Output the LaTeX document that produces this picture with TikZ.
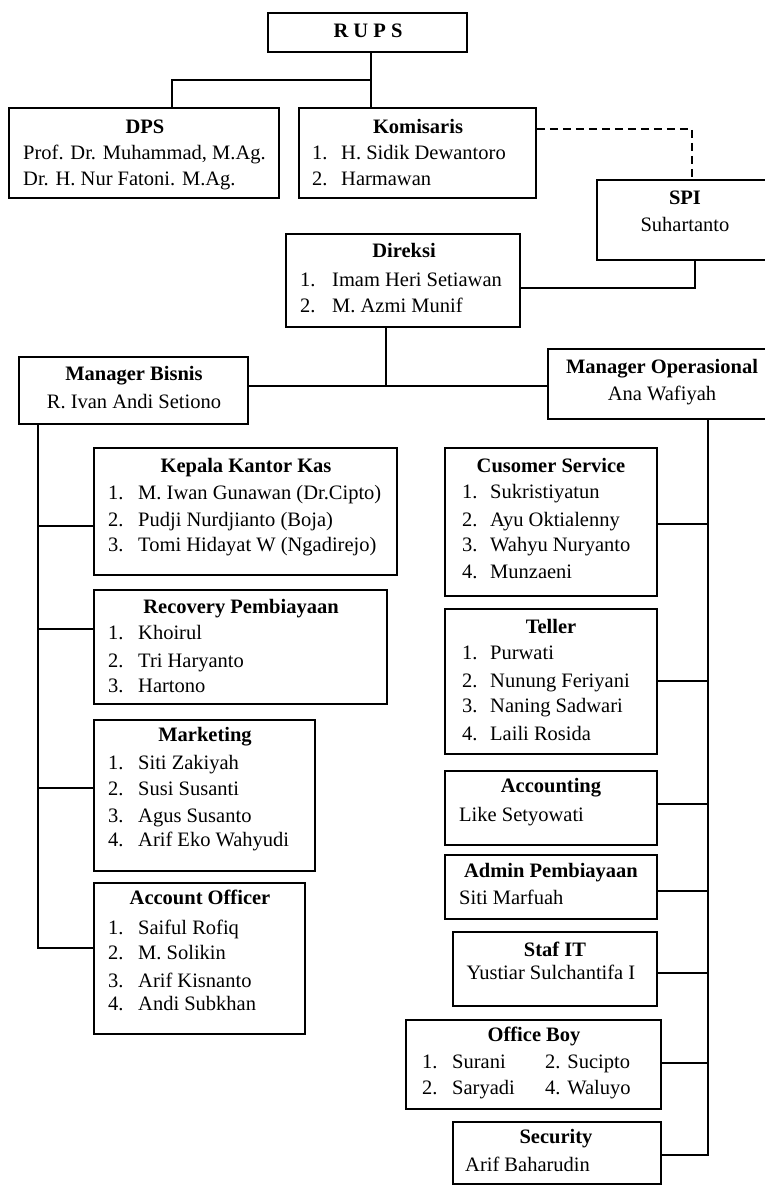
\documentclass[tikz,border=0pt]{standalone}
\usepackage{fontspec}
\setmainfont{Liberation Serif}
\newcommand\orgitem[6]{%
  \node[lt] (#1n) at (#2,#4) {#5};
  \node[lt] (#1t) at (#3,#4) {#6};}
\begin{document}
\begin{tikzpicture}[x=1pt,y=-1pt,
  box/.style={draw,line width=1.6pt,rectangle,inner sep=0pt},
  ct/.style={inner sep=0pt,anchor=mid,yshift=-2pt,font=\fontsize{20.5}{25}\selectfont},
  tt/.style={ct,font=\fontsize{20.5}{25}\selectfont\bfseries},
  lt/.style={inner sep=0pt,anchor=mid west,yshift=-2pt,font=\fontsize{20.5}{25}\selectfont},
  con/.style={line width=1.6pt},
  dsh/.style={line width=1.6pt,dash pattern=on 8pt off 5pt}]
\useasboundingbox[fill=white] (0,0) rectangle (764,1186);

% ---- boxes ----
\node[box,minimum width=199pt,minimum height=39pt] (rups) at (367.5,32.5) {};
\node[box,minimum width=270pt,minimum height=90pt] (dps) at (144,153) {};
\node[box,minimum width=237pt,minimum height=90pt] (kom) at (417.5,153) {};
\node[box,minimum width=176pt,minimum height=80pt] (spi) at (685,220) {};
\node[box,minimum width=234pt,minimum height=93pt] (dir) at (403,280.5) {};
\node[box,minimum width=229pt,minimum height=67pt] (mb) at (133.5,390.5) {};
\node[box,minimum width=228pt,minimum height=70pt] (mo) at (662,384) {};
\node[box,minimum width=303pt,minimum height=127pt] (kkk) at (245.5,511.5) {};
\node[box,minimum width=293pt,minimum height=114pt] (rec) at (240.5,647) {};
\node[box,minimum width=221pt,minimum height=151pt] (mkt) at (204.5,795.5) {};
\node[box,minimum width=211pt,minimum height=151pt] (ao) at (199.5,958.5) {};
\node[box,minimum width=212pt,minimum height=148pt] (cs) at (551,522) {};
\node[box,minimum width=212pt,minimum height=145pt] (tel) at (551,681.5) {};
\node[box,minimum width=212pt,minimum height=74pt] (acc) at (551,808) {};
\node[box,minimum width=212pt,minimum height=64pt] (adm) at (551,887) {};
\node[box,minimum width=204pt,minimum height=74pt] (it) at (555,969) {};
\node[box,minimum width=255pt,minimum height=89pt] (ob) at (533.5,1064.5) {};
\node[box,minimum width=208pt,minimum height=62pt] (sec) at (557,1153) {};

% ---- texts ----
\node[tt] (rups-t) at (368,33) {R U P S};

\node[tt] (dps-t) at (145,129) {DPS};
\node[lt] (dps-1) at (23,155) {Prof. Dr. Muhammad, M.Ag.};
\node[lt] (dps-2) at (23,181) {Dr. H. Nur Fatoni. M.Ag.};

\node[tt] (kom-t) at (418,129) {Komisaris};
\orgitem{kom1}{312}{341}{155}{1.}{H. Sidik Dewantoro}
\orgitem{kom2}{312}{341}{181}{2.}{Harmawan}

\node[tt] (spi-t) at (685,200) {SPI};
\node[ct] (spi-1) at (685,227) {Suhartanto};

\node[tt] (dir-t) at (404,253) {Direksi};
\orgitem{dir1}{300}{332}{282}{1.}{Imam Heri Setiawan}
\orgitem{dir2}{300}{332}{308}{2.}{M. Azmi Munif}

\node[tt] (mb-t) at (134,376) {Manager Bisnis};
\node[ct] (mb-1) at (134,404) {R. Ivan Andi Setiono};

\node[tt] (mo-t) at (662,369) {Manager Operasional};
\node[ct] (mo-1) at (662,396) {Ana Wafiyah};

\node[tt] (kkk-t) at (246,468) {Kepala Kantor Kas};
\orgitem{kkk1}{108}{138}{495}{1.}{M. Iwan Gunawan (Dr.Cipto)}
\orgitem{kkk2}{108}{138}{522}{2.}{Pudji Nurdjianto (Boja)}
\orgitem{kkk3}{108}{138}{547}{3.}{Tomi Hidayat W (Ngadirejo)}

\node[tt] (rec-t) at (241,609) {Recovery Pembiayaan};
\orgitem{rec1}{108}{138}{635}{1.}{Khoirul}
\orgitem{rec2}{108}{138}{663}{2.}{Tri Haryanto}
\orgitem{rec3}{108}{138}{688}{3.}{Hartono}

\node[tt] (mkt-t) at (205,737) {Marketing};
\orgitem{mkt1}{108}{138}{765}{1.}{Siti Zakiyah}
\orgitem{mkt2}{108}{138}{791}{2.}{Susi Susanti}
\orgitem{mkt3}{108}{138}{818}{3.}{Agus Susanto}
\orgitem{mkt4}{108}{138}{842}{4.}{Arif Eko Wahyudi}

\node[tt] (ao-t) at (200,900) {Account Officer};
\orgitem{ao1}{108}{138}{930}{1.}{Saiful Rofiq}
\orgitem{ao2}{108}{138}{955}{2.}{M. Solikin}
\orgitem{ao3}{108}{138}{983}{3.}{Arif Kisnanto}
\orgitem{ao4}{108}{138}{1006}{4.}{Andi Subkhan}

\node[tt] (cs-t) at (551,468) {Cusomer Service};
\orgitem{cs1}{462}{490}{494}{1.}{Sukristiyatun}
\orgitem{cs2}{462}{490}{522}{2.}{Ayu Oktialenny}
\orgitem{cs3}{462}{490}{547}{3.}{Wahyu Nuryanto}
\orgitem{cs4}{462}{490}{574}{4.}{Munzaeni}

\node[tt] (tel-t) at (551,629) {Teller};
\orgitem{tel1}{462}{490}{655}{1.}{Purwati}
\orgitem{tel2}{462}{490}{683}{2.}{Nunung Feriyani}
\orgitem{tel3}{462}{490}{708}{3.}{Naning Sadwari}
\orgitem{tel4}{462}{490}{736}{4.}{Laili Rosida}

\node[tt] (acc-t) at (551,788) {Accounting};
\node[lt] (acc-1) at (459,817) {Like Setyowati};

\node[tt] (adm-t) at (551,873) {Admin Pembiayaan};
\node[lt] (adm-1) at (459,900) {Siti Marfuah};

\node[tt] (it-t) at (555,952) {Staf IT};
\node[ct] (it-1) at (551,975) {Yustiar Sulchantifa I};

\node[tt] (ob-t) at (534,1037) {Office Boy};
\orgitem{ob1}{422}{452}{1064}{1.}{Surani}
\orgitem{ob2}{422}{452}{1090}{2.}{Saryadi}
\node[lt] (ob3) at (545,1064) {2. Sucipto};
\node[lt] (ob4) at (545,1090) {4. Waluyo};

\node[tt] (sec-t) at (556,1139) {Security};
\node[lt] (sec-1) at (465,1167) {Arif Baharudin};

% ---- connectors ----
\coordinate (j1) at (371,80);
\coordinate (jd) at (172,80);
\draw[con] (rups.south -| j1) -- (kom.north -| j1);
\draw[con] (j1) -- (jd) -- (dps.north -| jd);

\coordinate (k1) at (692,129);
\draw[dsh] (kom.east |- k1) -- (k1) -- (spi.north -| k1);

\coordinate (s1) at (695,288);
\draw[con] (spi.south -| s1) -- (s1) -- (dir.east |- s1);

\coordinate (d1) at (386,386);
\draw[con] (dir.south -| d1) -- (d1);
\draw[con] (mb.east |- d1) -- (mo.west |- d1);

\coordinate (L) at (38,948);
\draw[con] (mb.south -| L) -- (L) -- (ao.west |- L);
\coordinate (lk) at (38,526);
\coordinate (lr) at (38,629);
\coordinate (lm) at (38,788);
\draw[con] (lk) -- (kkk.west |- lk);
\draw[con] (lr) -- (rec.west |- lr);
\draw[con] (lm) -- (mkt.west |- lm);

\coordinate (R) at (708,1155);
\draw[con] (mo.south -| R) -- (R) -- (sec.east |- R);
\coordinate (rc) at (708,524);
\coordinate (rt) at (708,681);
\coordinate (ra) at (708,804);
\coordinate (rd) at (708,891);
\coordinate (ri) at (708,973);
\coordinate (ro) at (708,1063);
\draw[con] (rc) -- (cs.east |- rc);
\draw[con] (rt) -- (tel.east |- rt);
\draw[con] (ra) -- (acc.east |- ra);
\draw[con] (rd) -- (adm.east |- rd);
\draw[con] (ri) -- (it.east |- ri);
\draw[con] (ro) -- (ob.east |- ro);
\end{tikzpicture}
\end{document}
